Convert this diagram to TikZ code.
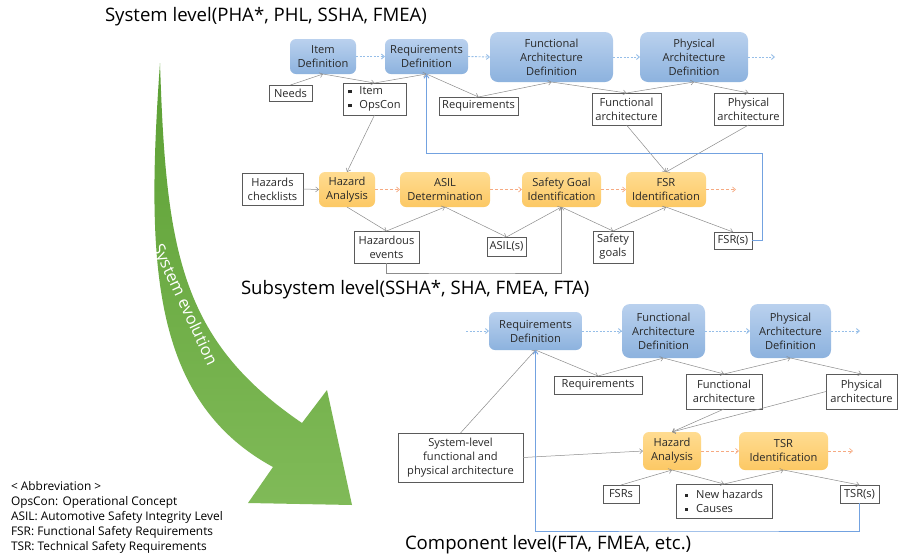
\documentclass[tikz,border=0pt]{standalone}
\usepackage{fontspec}
\setmainfont{Open Sans}
\usetikzlibrary{arrows.meta}
\definecolor{bluetop}{RGB}{186,209,238}
\definecolor{bluebot}{RGB}{140,178,222}
\definecolor{orgtop}{RGB}{255,220,145}
\definecolor{orgbot}{RGB}{252,200,100}
\definecolor{greytxt}{RGB}{40,40,40}
\definecolor{conngrey}{RGB}{140,140,140}
\definecolor{boxgrey}{RGB}{90,90,90}
\definecolor{dotblue}{RGB}{150,190,232}
\definecolor{dashorg}{RGB}{246,170,130}
\definecolor{fbblue}{RGB}{115,162,224}
\definecolor{greentop}{RGB}{92,160,52}
\definecolor{greenbot}{RGB}{128,186,88}
\newcommand{\sqb}{\rule[0.2ex]{0.3em}{0.3em}\hspace{0.7em}}
\begin{document}
\begin{tikzpicture}[x=1pt,y=-1pt,
 every node/.style={inner sep=0pt, outer sep=0pt, text=greytxt},
 nodefont/.style={font=\fontsize{11.1}{14}\selectfont},
 proc/.style={nodefont, align=center, rounded corners=6pt, top color=bluetop, bottom color=bluebot},
 sproc/.style={nodefont, align=center, rounded corners=6pt, top color=orgtop, bottom color=orgbot},
 wbox/.style={nodefont, align=center, draw=boxgrey, line width=0.6pt, fill=white},
 conn/.style={draw=conngrey, line width=0.5pt, -{Straight Barb[length=3pt,width=5pt]}},
 flowb/.style={draw=dotblue, line width=0.9pt, dash pattern=on 2pt off 1.5pt, -{Straight Barb[length=3pt,width=5pt]}},
 flowo/.style={draw=dashorg, line width=0.7pt, dash pattern=on 3pt off 2pt, -{Straight Barb[length=3pt,width=5pt]}},
 fb/.style={draw=fbblue, line width=0.9pt, -{Straight Barb[length=3.5pt,width=5pt]}},
 title/.style={anchor=west, font=\fontsize{18.6}{20}\selectfont, text=black}
]
\useasboundingbox (0,0) rectangle (898,558);
\fill[white] (0,0) rectangle (898,558);

% green evolution arrow
\shade[top color=greentop, bottom color=greenbot]
  (160,63) .. controls (166,250) and (180,340) .. (302,423) -- (327,390) -- (352,505)
  -- (248,503) -- (273,467) .. controls (150,400) and (146,260) .. (160,63) -- cycle;
\node[rotate=-65, text=white, font=\fontsize{16.5}{16.5}\selectfont] (evo) at (184,305) {System evolution};

% titles
\node[title] (t1) at (105,17) {System level(PHA*, PHL, SSHA, FMEA)};
\node[title] (t2) at (241,290) {Subsystem level(SSHA*, SHA, FMEA, FTA)};
\node[title] (t3) at (405,545) {Component level(FTA, FMEA, etc.)};

% legend
\node[anchor=north west, align=left, text=black, font=\fontsize{11.9}{15}\selectfont] (legend) at (11,481)
 {< Abbreviation >\\OpsCon: Operational Concept\\ASIL: Automotive Safety Integrity Level\\FSR: Functional Safety Requirements\\TSR: Technical Safety Requirements};

% ---------- system level ----------
\node[proc, minimum width=66pt, minimum height=35pt] (itemdef) at (323,56.5) {Item\\Definition};
\node[proc, minimum width=83pt, minimum height=35pt] (reqdef1) at (426.5,56.5) {Requirements\\Definition};
\node[proc, minimum width=123pt, minimum height=50pt, rounded corners=8pt] (fad1) at (551.5,57) {Functional\\Architecture\\Definition};
\node[proc, minimum width=108pt, minimum height=50pt, rounded corners=8pt] (pad1) at (694,57) {Physical\\Architecture\\Definition};
\coordinate (end1) at (775,57);

\node[wbox, minimum width=43pt, minimum height=16pt] (needs) at (290.5,93) {Needs};
\node[wbox, minimum width=63pt, minimum height=32pt, align=left] (itemops) at (374.5,99) {\sqb Item\\\sqb OpsCon};
\node[wbox, minimum width=79pt, minimum height=18pt] (req1) at (478.5,106) {Requirements};
\node[wbox, minimum width=69pt, minimum height=32pt] (fa1) at (626.5,109) {Functional\\architecture};
\node[wbox, minimum width=69pt, minimum height=32pt] (pa1) at (748.5,109) {Physical\\architecture};

\node[wbox, minimum width=61pt, minimum height=32pt] (hazcheck) at (272.5,189) {Hazards\\checklists};
\node[sproc, minimum width=56pt, minimum height=35pt] (ha1) at (347,189.5) {Hazard\\Analysis};
\node[sproc, minimum width=90pt, minimum height=35pt] (asil) at (445,189.5) {ASIL\\Determination};
\node[sproc, minimum width=79pt, minimum height=35pt] (sg) at (561.5,189.5) {Safety Goal\\Identification};
\node[sproc, minimum width=80pt, minimum height=35pt] (fsr) at (666,189.5) {FSR\\Identification};
\coordinate (end2) at (736,189.5);

\node[wbox, minimum width=65pt, minimum height=32pt] (he) at (386.5,247) {Hazardous\\events};
\node[wbox, minimum width=39pt, minimum height=19pt] (asils) at (506.5,246.5) {ASIL(s)};
\node[wbox, minimum width=40pt, minimum height=32pt] (sgoals) at (613,247) {Safety\\goals};
\node[wbox, minimum width=38pt, minimum height=17pt] (fsrs) at (733,240.5) {FSR(s)};

% ---------- component level ----------
\coordinate (start3) at (466,331);
\node[proc, minimum width=93pt, minimum height=38pt] (reqdef3) at (535.5,331) {Requirements\\Definition};
\node[proc, minimum width=83pt, minimum height=54pt, rounded corners=8pt] (fad3) at (663.5,331) {Functional\\Architecture\\Definition};
\node[proc, minimum width=81pt, minimum height=54pt, rounded corners=8pt] (pad3) at (790.5,331) {Physical\\Architecture\\Definition};
\coordinate (end3) at (860,331);

\node[wbox, minimum width=88pt, minimum height=18pt] (req3) at (598,385) {Requirements};
\node[wbox, minimum width=76pt, minimum height=35pt] (fa3) at (724,391.5) {Functional\\architecture};
\node[wbox, minimum width=71pt, minimum height=35pt] (pa3) at (861.5,391.5) {Physical\\architecture};

\node[wbox, minimum width=125pt, minimum height=49pt] (syslevel) at (460.5,457.5) {System-level\\functional and\\physical architecture};
\node[sproc, minimum width=58pt, minimum height=38pt] (ha3) at (672,451) {Hazard\\Analysis};
\node[sproc, minimum width=89pt, minimum height=38pt] (tsr) at (783.5,451) {TSR\\Identification};
\coordinate (end4) at (853,451);

\node[wbox, minimum width=36pt, minimum height=18pt] (fsrs3) at (621,494) {FSRs};
\node[wbox, minimum width=96pt, minimum height=34pt, align=left] (newhaz) at (724,501) {\sqb New hazards\\\sqb Causes};
\node[wbox, minimum width=39pt, minimum height=18pt] (tsrs) at (859.5,494) {TSR(s)};

% ---------- flows ----------
\draw[flowb] (itemdef.east) -- (reqdef1.west);
\draw[flowb] (reqdef1.east) -- (fad1.west);
\draw[flowb] (fad1.east) -- (pad1.west);
\draw[flowb] (pad1.east) -- (end1);
\draw[flowo] (ha1.east) -- (asil.west);
\draw[flowo] (asil.east) -- (sg.west);
\draw[flowo] (sg.east) -- (fsr.west);
\draw[flowo] (fsr.east) -- (end2);
\draw[flowb] (start3) -- (reqdef3.west);
\draw[flowb] (reqdef3.east) -- (fad3.west);
\draw[flowb] (fad3.east) -- (pad3.west);
\draw[flowb] (pad3.east) -- (end3);
\draw[flowo] (ha3.east) -- (tsr.west);
\draw[flowo] (tsr.east) -- (end4);

% ---------- grey connectors ----------
\draw[conn] (needs.north) -- (itemdef.south);
\draw[conn] (itemdef.south) -- (itemops.north);
\draw[conn] (itemops.north) -- (reqdef1.south);
\draw[conn] (reqdef1.south) -- (req1.north);
\draw[conn] (req1.north) -- (fad1.south);
\draw[conn] (fad1.south) -- (fa1.north);
\draw[conn] (fa1.north) -- (pad1.south);
\draw[conn] (pad1.south) -- (pa1.north);
\draw[conn] (itemops.south) -- (ha1.north);
\draw[conn] (hazcheck.east) -- (ha1.west);
\draw[conn] (fa1.south) -- (fsr.north);
\draw[conn] (pa1.south) -- (fsr.north);
\draw[conn] (ha1.south) -- (he.north);
\draw[conn] (he.north) -- (asil.south);
\draw[conn] (asil.south) -- (asils.north);
\draw[conn] (asils.north) -- (sg.south);
\draw[conn] (sg.south) -- (sgoals.north);
\draw[conn] (sgoals.north) -- (fsr.south);
\draw[conn] (fsr.south) -- (fsrs.north);
\coordinate (heloop) at (470,273);
\draw[conn] (he.south) |- (heloop) -| (sg.south);

\draw[conn] (reqdef3.south) -- (req3.north);
\draw[conn] (req3.north) -- (fad3.south);
\draw[conn] (fad3.south) -- (fa3.north);
\draw[conn] (fa3.north) -- (pad3.south);
\draw[conn] (pad3.south) -- (pa3.north);
\draw[conn] (syslevel.north) -- (reqdef3.south);
\draw[conn] (syslevel.east) -- (ha3.west);
\draw[conn] (fa3.south) -- (ha3.north);
\draw[conn] (pa3.west) -- (ha3.north);
\draw[conn] (fsrs3.north) -- (ha3.south);
\draw[conn] (ha3.south) -- (newhaz.north);
\draw[conn] (newhaz.north) -- (tsr.south);
\draw[conn] (tsr.south) -- (tsrs.north);

% ---------- feedback loops ----------
\coordinate (fb1) at (762,153);
\draw[fb] (fsrs.east) -| (fb1) -| (reqdef1.south);
\coordinate (fb2) at (700,531);
\draw[fb] (tsrs.south) |- (fb2) -| (reqdef3.south);
\end{tikzpicture}
\end{document}
